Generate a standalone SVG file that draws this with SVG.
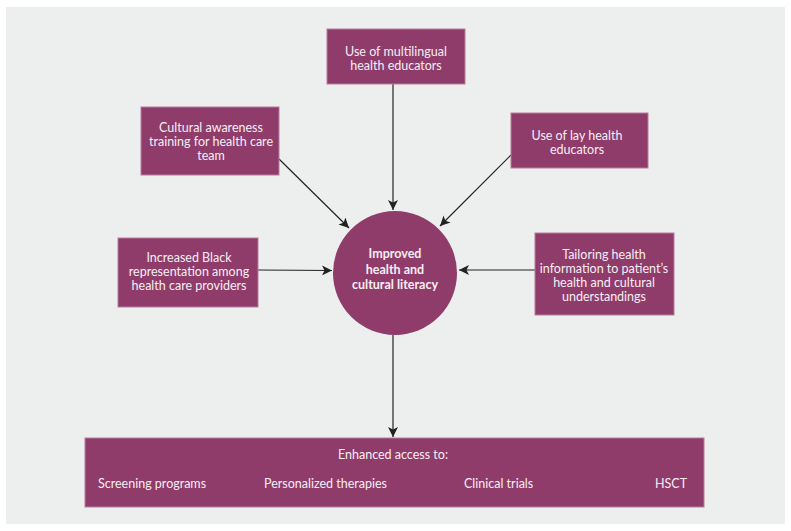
<svg xmlns="http://www.w3.org/2000/svg" width="791" height="531" viewBox="0 0 791 531">
<style>
.box{fill:#8f3c6b;stroke:#b77c9c;stroke-width:1}
.t{font-family:Lato,"Liberation Sans",sans-serif;font-size:12.5px;fill:#f6eef3;text-anchor:middle}
.b{font-weight:bold}
.s{text-anchor:start}
.c{stroke:#222;stroke-width:1.2;fill:none}
</style>
<defs>
<marker id="ah" viewBox="0 0 10 10" refX="10" refY="5" markerWidth="10" markerHeight="10" markerUnits="userSpaceOnUse" orient="auto">
<path d="M0,0 L10,5 L0,10 L2.5,5 Z" fill="#222"/>
</marker>
</defs>
<rect x="0" y="0" width="791" height="531" fill="#ffffff"/>
<rect x="6" y="7" width="779" height="517" fill="#edefee"/>
<g id="connectors">
<line class="c" x1="393" y1="84" x2="393" y2="210" marker-end="url(#ah)"/>
<line class="c" x1="279" y1="159" x2="349" y2="228" marker-end="url(#ah)"/>
<line class="c" x1="511" y1="155" x2="440" y2="226" marker-end="url(#ah)"/>
<line class="c" x1="258" y1="270" x2="332" y2="270.5" marker-end="url(#ah)"/>
<line class="c" x1="535" y1="270" x2="459" y2="270" marker-end="url(#ah)"/>
<line class="c" x1="393" y1="335" x2="393" y2="437" marker-end="url(#ah)"/>
</g>
<g id="multilingual">
<rect class="box" x="327" y="29" width="138" height="55"/>
<text class="t" x="396" y="56">Use of multilingual</text>
<text class="t" x="396" y="70">health educators</text>
</g>
<g id="cultural-awareness">
<rect class="box" x="141" y="107" width="138" height="68"/>
<text class="t" x="211" y="132">Cultural awareness</text>
<text class="t" x="211" y="146">training for health care</text>
<text class="t" x="211" y="160">team</text>
</g>
<g id="lay-health">
<rect class="box" x="511" y="113" width="137" height="55"/>
<text class="t" x="577" y="140">Use of lay health</text>
<text class="t" x="577" y="154">educators</text>
</g>
<g id="black-representation">
<rect class="box" x="118" y="238" width="140" height="69"/>
<text class="t" x="189" y="262">Increased Black</text>
<text class="t" x="189" y="276">representation among</text>
<text class="t" x="189" y="290">health care providers</text>
</g>
<g id="center">
<circle cx="395" cy="273" r="62" fill="#8f3c6b"/>
<text class="t b" x="395" y="258">Improved</text>
<text class="t b" x="395" y="274">health and</text>
<text class="t b" x="395" y="289">cultural literacy</text>
</g>
<g id="tailoring">
<rect class="box" x="535" y="233" width="139" height="82"/>
<text class="t" x="604" y="259">Tailoring health</text>
<text class="t" x="604" y="273">information to patient’s</text>
<text class="t" x="604" y="287">health and cultural</text>
<text class="t" x="604" y="301">understandings</text>
</g>
<g id="enhanced-access">
<rect class="box" x="85" y="438" width="619" height="69"/>
<text class="t" x="393" y="459">Enhanced access to:</text>
<text class="t s" x="98" y="488">Screening programs</text>
<text class="t s" x="264" y="488">Personalized therapies</text>
<text class="t s" x="464" y="488">Clinical trials</text>
<text class="t s" x="655" y="488">HSCT</text>
</g>
</svg>
